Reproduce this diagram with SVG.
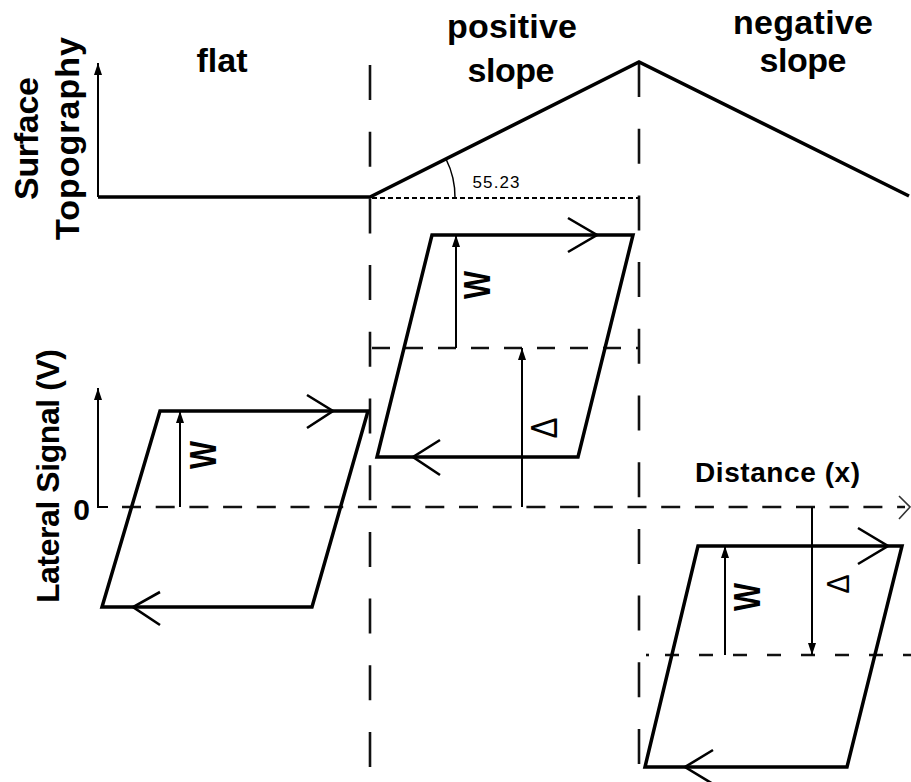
<svg xmlns="http://www.w3.org/2000/svg" width="911" height="782" viewBox="0 0 911 782">
<style>
.thick{stroke:#000;stroke-width:3.5;fill:none;stroke-linejoin:miter}
.vdash{stroke:#111;stroke-width:2.6;stroke-dasharray:35 31.7;fill:none}
.hdash{stroke:#111;stroke-width:2.6;fill:none}
.thin{stroke:#000;stroke-width:2;fill:none}
.open{stroke:#000;stroke-width:2.6;fill:none;stroke-linejoin:miter}
.t{font-family:"Liberation Sans",Arial,Helvetica,sans-serif;font-weight:bold;fill:#000}
.r{font-family:"Liberation Sans",Arial,Helvetica,sans-serif;font-weight:normal;fill:#000}
</style>
<defs>
<marker id="ah" viewBox="0 0 12 8" refX="12" refY="4" markerWidth="12" markerHeight="8" markerUnits="userSpaceOnUse" orient="auto">
<path d="M0,0 L12,4 L0,8 z" fill="#000"/>
</marker>
</defs>
<rect width="911" height="782" fill="#fff"/>

<g id="region-dividers">
<line class="vdash" x1="370" y1="65" x2="370" y2="768"/>
<line class="vdash" x1="639" y1="62" x2="639" y2="768"/>
</g>

<g id="topography">
<line class="thin" x1="98" y1="197" x2="98" y2="63" marker-end="url(#ah)"/>
<polyline class="thick" points="98,197 370,197 639,62 909,196"/>
<line x1="372" y1="198" x2="639" y2="198" stroke="#000" stroke-width="2" stroke-dasharray="5 3"/>
<path d="M446,159 A85,85 0 0 1 455,198" stroke="#000" stroke-width="1.5" fill="none"/>
<text class="r" x="496" y="188" font-size="17" text-anchor="middle" textLength="47">55.23</text>
</g>

<g id="titles">
<text class="t" x="222" y="72" font-size="34" text-anchor="middle" textLength="51">flat</text>
<text class="t" x="512" y="38" font-size="34" text-anchor="middle" textLength="130">positive</text>
<text class="t" x="511" y="82" font-size="34" text-anchor="middle" textLength="87">slope</text>
<text class="t" x="803" y="34" font-size="34" text-anchor="middle" textLength="140">negative</text>
<text class="t" x="803" y="72" font-size="34" text-anchor="middle" textLength="87">slope</text>
<text class="t" transform="translate(38,138.5) rotate(-90)" font-size="34" text-anchor="middle" textLength="123">Surface</text>
<text class="t" transform="translate(79,138.5) rotate(-90)" font-size="34" text-anchor="middle" textLength="203">Topography</text>
<text class="t" transform="translate(59,476) rotate(-90)" font-size="32" text-anchor="middle" textLength="254">Lateral Signal (V)</text>
<text class="t" x="81.5" y="520" font-size="30" text-anchor="middle">0</text>
<text class="t" x="777.5" y="482" font-size="28" text-anchor="middle" textLength="165">Distance (x)</text>
</g>

<g id="signal-axes">
<polyline class="thin" points="98,388 98,507 108,507"/>
<line class="thin" x1="98" y1="507" x2="98" y2="388" marker-end="url(#ah)"/>
<line class="hdash" x1="122" y1="507" x2="905" y2="507" stroke-dasharray="19 14.7"/>
<polyline points="899,496 910,507 899,519" stroke="#333" stroke-width="1.6" fill="none"/>
<line class="hdash" x1="372" y1="348" x2="638" y2="348" stroke-dasharray="18 15"/>
<line class="hdash" x1="646" y1="655" x2="649" y2="655"/>
<line class="hdash" x1="665" y1="655" x2="911" y2="655" stroke-dasharray="14 20"/>
</g>

<g id="loop-flat">
<polygon class="thick" points="160,411 368,411 312,607 102,607"/>
<polyline class="open" points="307,395 333,411 307,428"/>
<polyline class="open" points="160,592 133,607 160,625"/>
</g>

<g id="loop-positive">
<polygon class="thick" points="432,235 633,235 578,457 377,457"/>
<polyline class="open" points="568,218 597,235 568,252"/>
<polyline class="open" points="440,440 413,457 440,475"/>
</g>

<g id="loop-negative">
<polygon class="thick" points="698,546 902,546 847,767 645,767"/>
<polyline class="open" points="858,528 888,546 858,564"/>
<polyline class="open" points="713,750 685,767 713,784"/>
</g>

<g id="connectors">
<line class="thin" x1="180" y1="507" x2="180" y2="411" marker-end="url(#ah)"/>
<line class="thin" x1="456" y1="348" x2="456" y2="235" marker-end="url(#ah)"/>
<line class="thin" x1="522" y1="507" x2="522" y2="348" marker-end="url(#ah)"/>
<line class="thin" x1="725" y1="655" x2="725" y2="546" marker-end="url(#ah)"/>
<line class="thin" x1="812" y1="507" x2="812" y2="655" marker-end="url(#ah)"/>
</g>

<g id="connector-labels">
<text class="t" transform="translate(216,455) rotate(-90)" font-size="36" text-anchor="middle" textLength="28" lengthAdjust="spacingAndGlyphs">W</text>
<text class="t" transform="translate(490,285) rotate(-90)" font-size="36" text-anchor="middle" textLength="28" lengthAdjust="spacingAndGlyphs">W</text>
<text class="t" transform="translate(760,597) rotate(-90)" font-size="36" text-anchor="middle" textLength="28" lengthAdjust="spacingAndGlyphs">W</text>
<text class="r" transform="translate(557,428) rotate(-90)" font-size="36" text-anchor="middle" textLength="21" lengthAdjust="spacingAndGlyphs">Δ</text>
<text class="r" transform="translate(849,584) rotate(-90)" font-size="32" text-anchor="middle" textLength="19" lengthAdjust="spacingAndGlyphs">Δ</text>
</g>
</svg>
